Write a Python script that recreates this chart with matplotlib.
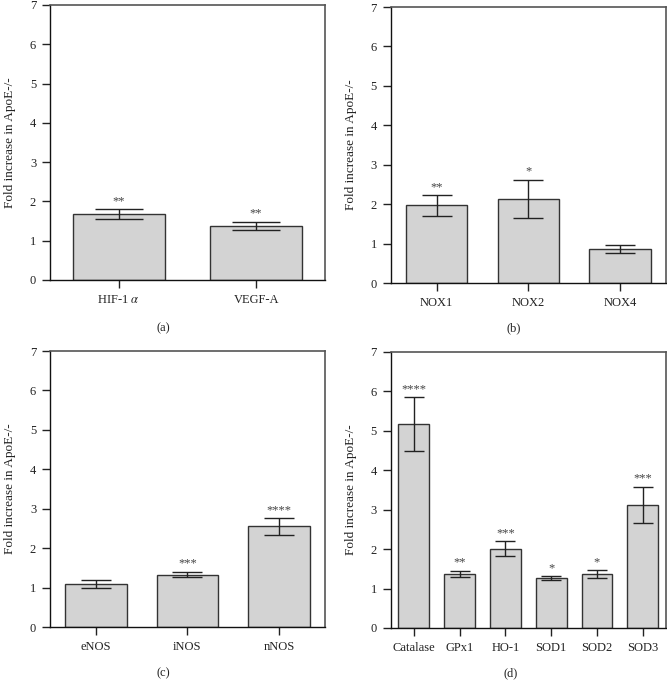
import matplotlib
matplotlib.use("Agg")
import matplotlib.pyplot as plt

plt.rcParams['font.family'] = ['Liberation Serif', 'DejaVu Serif']
plt.rcParams['mathtext.fontset'] = 'stix'

cats_a = ["HIF-1 $\\alpha$", "VEGF-A"]
vals_a = [1.67, 1.38]
err_a = [0.13, 0.10]
sig_a = ["**", "**"]

cats_b = ["NOX1", "NOX2", "NOX4"]
vals_b = [1.97, 2.13, 0.87]
err_b = [0.26, 0.49, 0.10]
sig_b = ["**", "*", ""]

cats_c = ["eNOS", "iNOS", "nNOS"]
vals_c = [1.10, 1.33, 2.55]
err_c = [0.10, 0.07, 0.21]
sig_c = ["", "***", "****"]

cats_d = ["Catalase", "GPx1", "HO-1", "SOD1", "SOD2", "SOD3"]
vals_d = [5.17, 1.37, 2.01, 1.27, 1.37, 3.13]
err_d = [0.69, 0.085, 0.19, 0.045, 0.10, 0.455]
sig_d = ["****", "**", "***", "*", "*", "***"]

panel_labels = ["(a)", "(b)", "(c)", "(d)"]
y_ticks = [0, 1, 2, 3, 4, 5, 6, 7]

fig = plt.figure(figsize=(6.67, 6.91), dpi=100)

positions = [
    [0.075, 0.5948, 0.412, 0.398],
    [0.586, 0.5904, 0.412, 0.3994],
    [0.075, 0.0926, 0.412, 0.3994],
    [0.586, 0.0912, 0.412, 0.3994],
]
data = [
    (cats_a, vals_a, err_a, sig_a, 17),
    (cats_b, vals_b, err_b, sig_b, 11),
    (cats_c, vals_c, err_c, sig_c, 11),
    (cats_d, vals_d, err_d, sig_d, 7.5),
]
label_pos = [(0.245, 0.525), (0.77, 0.525), (0.245, 0.026), (0.765, 0.026)]

for pos, (cats, vals, errs, sigs, cap), lab, lp in zip(positions, data, panel_labels, label_pos):
    ax = fig.add_axes(pos)
    x = list(range(len(cats)))
    ax.bar(x, vals, width=0.67, color="#d3d3d3", edgecolor="#333333", linewidth=1.0, zorder=2)
    ax.errorbar(x, vals, yerr=errs, fmt='none', ecolor="#222222", elinewidth=1.0,
                capsize=cap, capthick=1.0, zorder=3)
    for xi, v, e, s in zip(x, vals, errs, sigs):
        if s:
            ax.annotate(s, (xi, v + e), xytext=(0, 1.5), textcoords='offset points',
                        ha='center', va='bottom', fontsize=9, color="#444444")
    ax.set_xlim(-0.5, len(cats) - 0.5)
    ax.set_ylim(0, 7)
    ax.set_yticks(y_ticks)
    ax.set_xticks(x)
    ax.set_xticklabels(cats)
    ax.tick_params(axis='both', direction='out', length=6, width=1.0, labelsize=9, colors="#222222")
    ax.tick_params(axis='y', pad=4)
    ax.tick_params(axis='x', pad=4)
    ax.set_ylabel("Fold increase in ApoE-/-", fontsize=9.5, color="#222222", labelpad=10)
    for sp in ['left', 'bottom']:
        ax.spines[sp].set_color("#111111")
        ax.spines[sp].set_linewidth(1.0)
    for sp in ['top', 'right']:
        ax.spines[sp].set_color("#555555")
        ax.spines[sp].set_linewidth(1.2)
    fig.text(lp[0], lp[1], lab, ha='center', va='center', fontsize=9, color="#222222")

fig.savefig("out.png", dpi=100)
